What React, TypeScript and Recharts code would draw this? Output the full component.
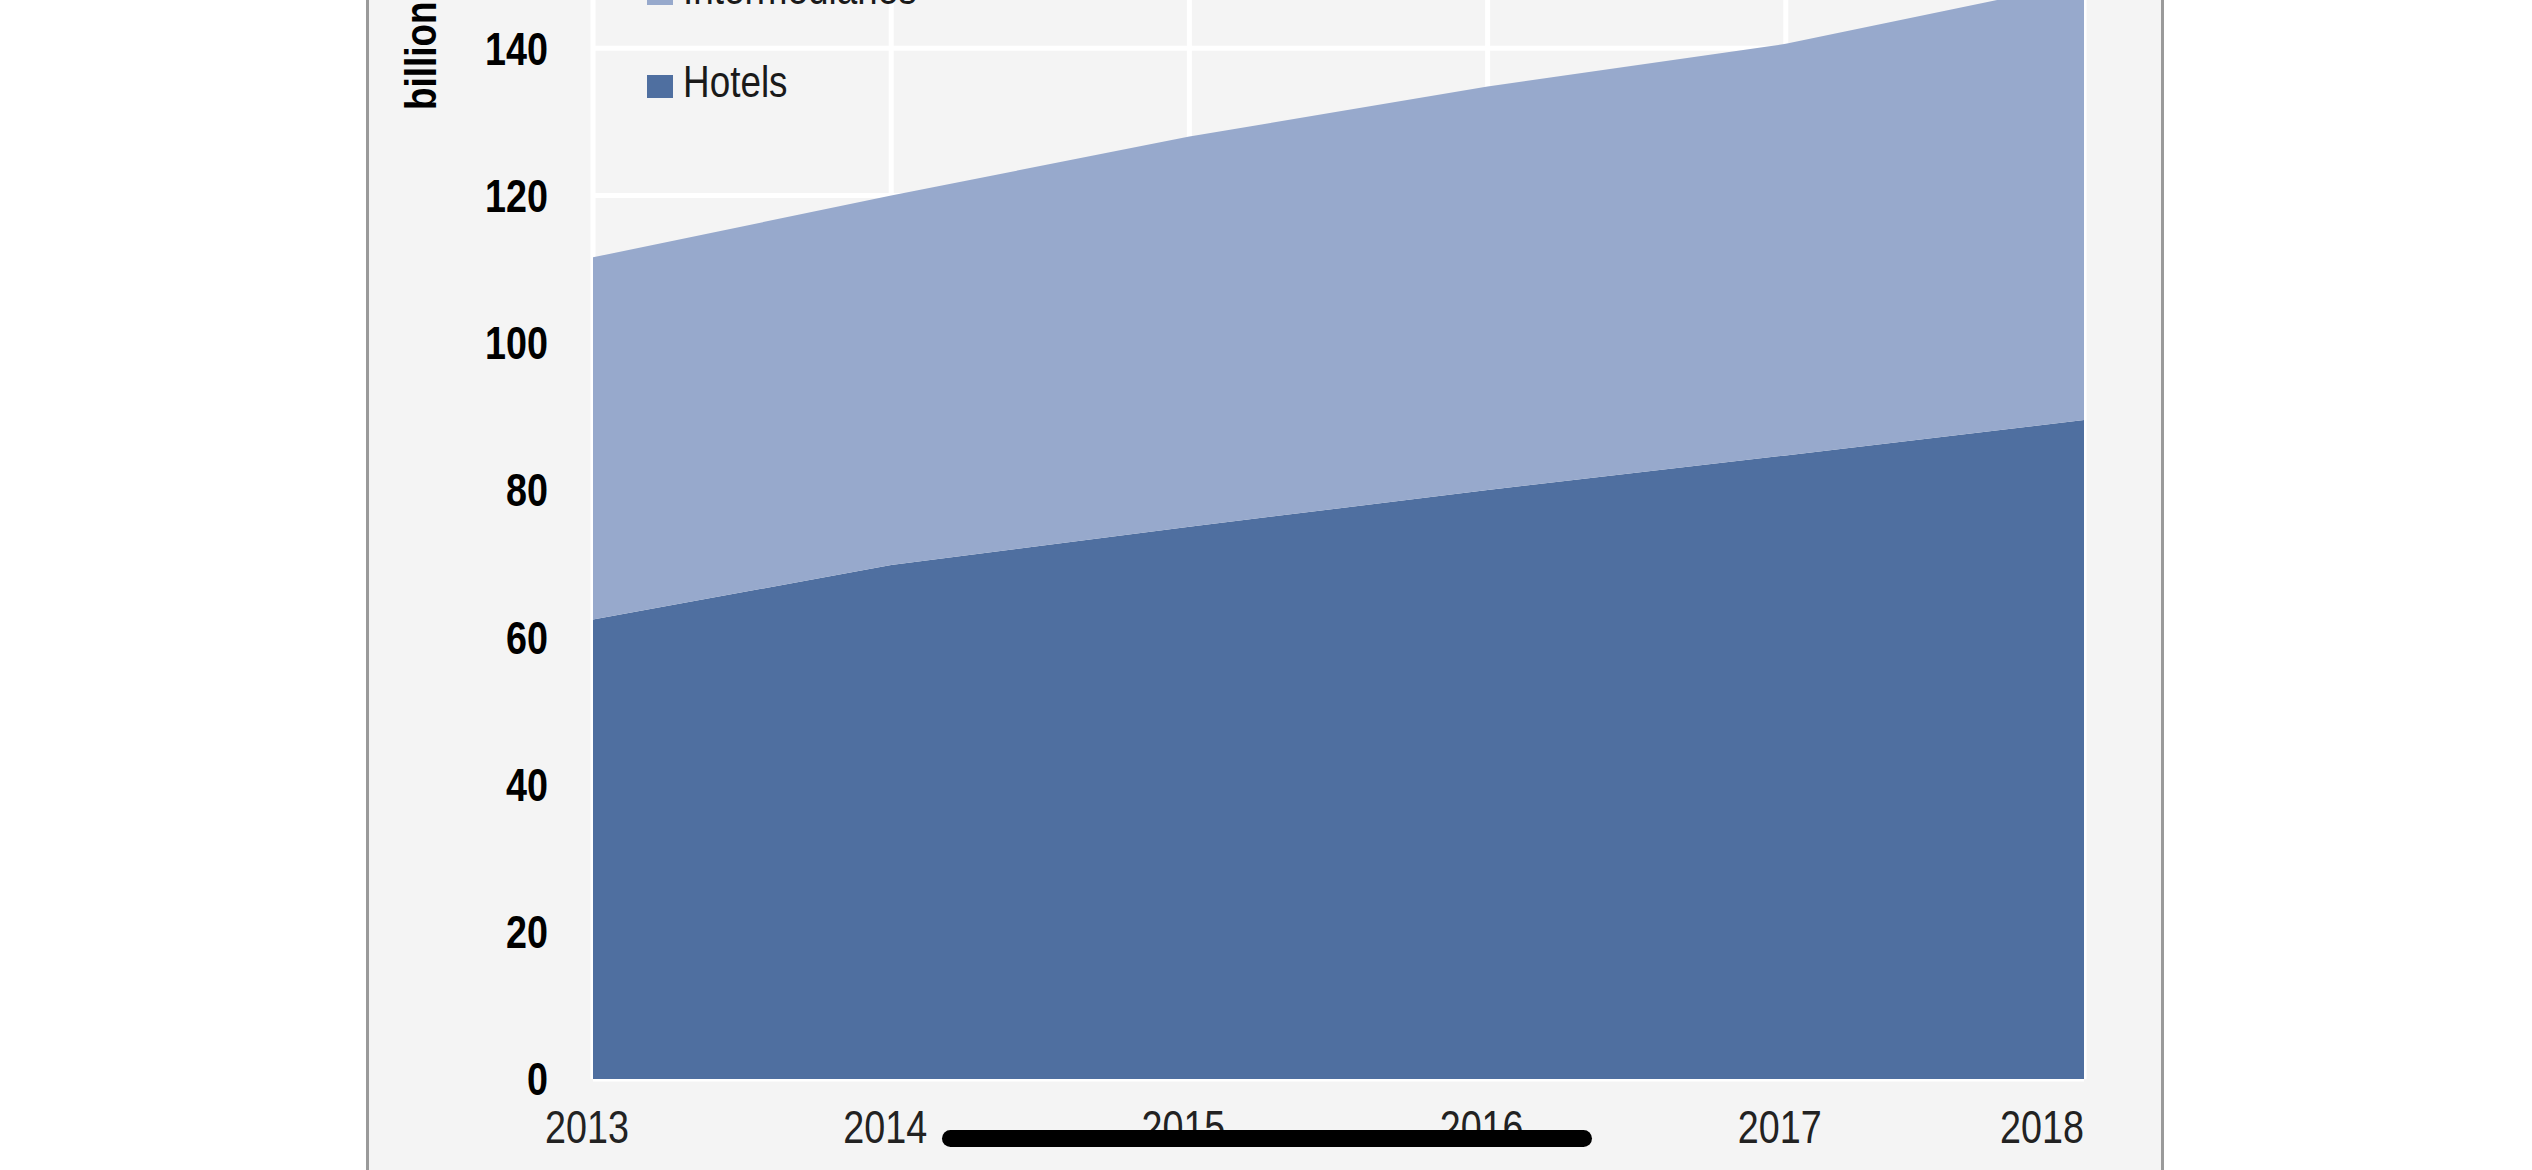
import React from 'react';
import { AreaChart, Area, XAxis, YAxis, CartesianGrid } from 'recharts';

const years = ['2013', '2014', '2015', '2016', '2017', '2018'];
const hotels = [62.4, 69.8, 75.0, 80.0, 84.7, 89.5];
const intermediaries = [49.2, 50.2, 53.0, 54.8, 55.9, 59.5];
const yTicks = [0, 20, 40, 60, 80, 100, 120, 140, 160];
const seriesNames = ['Intermediaries', 'Hotels'];
const seriesColors = ['#97a9cc', '#4f6fa0'];
const yAxisTitle = 'billion';

const data = years.map((year, i) => ({
  year,
  hotels: hotels[i],
  intermediaries: intermediaries[i],
}));

const FONT = '"Liberation Sans", Arial, sans-serif';
const NARROW = 0.82;

const XTick = (props: any) => {
  const { x, y, payload } = props;
  const last = payload.value === years[years.length - 1];
  const tx = last ? x : x - 6;
  return (
    <text
      transform={`translate(${tx},${y}) scale(${NARROW},1)`}
      x={0}
      y={0}
      dy="0.71em"
      textAnchor={last ? 'end' : 'middle'}
      fontSize={46}
      fontFamily={FONT}
      fill="#222"
    >
      {payload.value}
    </text>
  );
};

const YTick = (props: any) => {
  const { x, y, payload } = props;
  return (
    <text
      transform={`translate(${x},${y}) scale(${NARROW},1)`}
      x={0}
      y={0}
      dy="0.355em"
      textAnchor="end"
      fontSize={46}
      fontWeight="bold"
      fontFamily={FONT}
      fill="#000"
    >
      {payload.value}
    </text>
  );
};

export default function App() {
  return (
    <div style={{ position: 'fixed', left: 0, top: 0, width: 2532, height: 1170, overflow: 'hidden', background: '#fff' }}>
      <div
        style={{
          position: 'absolute',
          left: 366,
          top: -20,
          width: 1798,
          height: 1220,
          boxSizing: 'border-box',
          background: '#f4f4f4',
          borderLeft: '3px solid #9a9a9a',
          borderRight: '3px solid #9a9a9a',
        }}
      />
      <div style={{ position: 'absolute', left: 368, top: -150 }}>
        <AreaChart
          width={1796}
          height={1339}
          data={data}
          margin={{ top: 51, right: 80, left: 0, bottom: 20 }}
        >
          <CartesianGrid stroke="#ffffff" strokeWidth={5} fill="#f4f4f4" />
          <XAxis
            dataKey="year"
            axisLine={false}
            tickLine={false}
            tickSize={0}
            tickMargin={31}
            height={90}
            interval={0}
            tick={<XTick />}
          />
          <YAxis
            domain={[0, 160]}
            ticks={yTicks}
            axisLine={false}
            tickLine={false}
            tickSize={0}
            tickMargin={45}
            width={225}
            interval={0}
            tick={<YTick />}
          />
          <Area
            type="linear"
            dataKey="hotels"
            stackId="a"
            stroke="none"
            fill={seriesColors[1]}
            fillOpacity={1}
            isAnimationActive={false}
          />
          <Area
            type="linear"
            dataKey="intermediaries"
            stackId="a"
            stroke="none"
            fill={seriesColors[0]}
            fillOpacity={1}
            isAnimationActive={false}
          />
        </AreaChart>
      </div>
      <svg style={{ position: 'absolute', left: 0, top: 0 }} width={2532} height={1170}>
        <text
          transform={`translate(436,110) rotate(-90) scale(${NARROW},1)`}
          x={0}
          y={0}
          textAnchor="start"
          fontSize={45}
          fontWeight="bold"
          fontFamily={FONT}
          fill="#000"
        >
          {yAxisTitle}
        </text>
        {seriesNames.map((name, i) => (
          <g key={name}>
            <rect x={647} y={-18 + i * 93} width={26} height={23} fill={seriesColors[i]} />
            <text
              transform={`translate(683,${4 + i * 93}) scale(${NARROW},1)`}
              x={0}
              y={0}
              fontSize={45}
              fontFamily={FONT}
              fill="#1a1a1a"
            >
              {name}
            </text>
          </g>
        ))}
      </svg>
      <div
        style={{
          position: 'absolute',
          left: 942,
          top: 1130,
          width: 650,
          height: 17,
          borderRadius: 9,
          background: '#000',
        }}
      />
    </div>
  );
}
